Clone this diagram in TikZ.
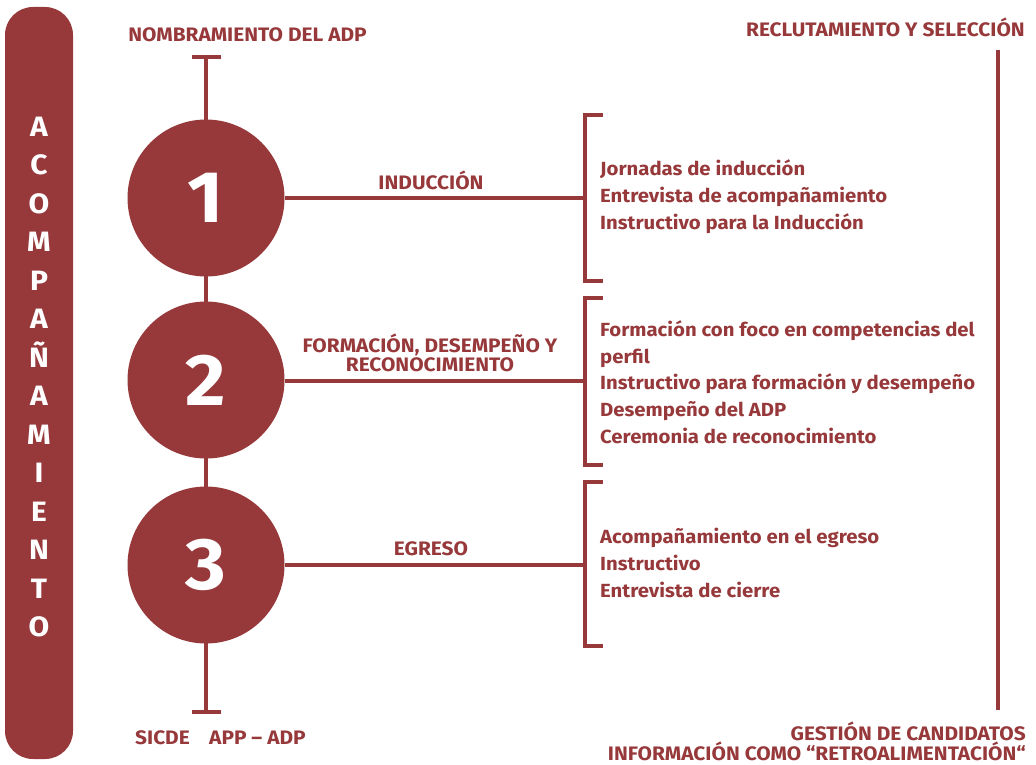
\documentclass[tikz,border=0pt]{standalone}
\usepackage{fontspec}
\setmainfont{Fira Sans}[FakeStretch=1.07]
\definecolor{acc}{RGB}{151,57,59}
\begin{document}
\begin{tikzpicture}[x=1pt,y=-1pt,
  conn/.style={draw=acc,line width=4.5pt},
  lbl/.style={text=acc,font=\fontsize{19.5}{17}\selectfont\bfseries,inner sep=0pt},
  item/.style={text=acc,font=\fontsize{19}{26.7}\selectfont\bfseries,inner sep=0pt,align=left,anchor=base west},
  num/.style={circle,fill=acc,minimum size=157pt,inner sep=0pt,text=white,font=\fontsize{73}{73}\selectfont\bfseries}]
\useasboundingbox (0,0) rectangle (1036,765);
% side bar
\node[fill=acc,rounded corners=28pt,minimum width=68pt,minimum height=752pt,inner sep=0pt] (bar) at (39,383) {};
\node[text=white,font=\fontsize{28}{38.5}\selectfont\bfseries,align=center,inner sep=0pt] (acomp) at (39,377)
  {A\\C\\O\\M\\P\\A\\Ñ\\A\\M\\I\\E\\N\\T\\O};
% main axis
\coordinate (topT) at (206,57);
\coordinate (botT) at (206,712);
\draw[conn] (topT) -- (botT);
\draw[conn] ([xshift=-14.5pt]topT) -- ([xshift=14.5pt]topT);
\draw[conn] ([xshift=-14.5pt]botT) -- ([xshift=14.5pt]botT);
% brackets
\coordinate (b1t) at (585,115); \coordinate (b1b) at (585,281);
\coordinate (b2t) at (585,298); \coordinate (b2b) at (585,465);
\coordinate (b3t) at (585,482); \coordinate (b3b) at (585,646);
\foreach \b in {1,2,3}{
  \draw[conn] ([xshift=18pt]b\b t) -- (b\b t) -- (b\b b) -- ([xshift=18pt]b\b b);
}
\coordinate (b1) at (585,198);
\coordinate (b2) at (585,381);
\coordinate (b3) at (585,565);
% circles
\node[num] (c1) at (206,198) {1};
\node[num] (c2) at (206,380) {2};
\node[num] (c3) at (206,565) {3};
\draw[conn] (c1.east) -- (b1);
\draw[conn] (c2.east |- b2) -- (b2);
\draw[conn] (c3.east) -- (b3);
% labels
\node[lbl,anchor=base] (nom) at (247.5,42) {NOMBRAMIENTO DEL ADP};
\node[lbl,anchor=base] (ind) at (431,189) {INDUCCIÓN};
\node[lbl,anchor=base,align=center] (form) at (430,371) {FORMACIÓN, DESEMPEÑO Y\\RECONOCIMIENTO};
\node[lbl,anchor=base] (egr) at (431,555) {EGRESO};
\node[lbl,anchor=base west] (sicde) at (135,744) {SICDE};
\node[lbl,anchor=base west] (app) at (209,744) {APP – ADP};
\node[lbl,anchor=base east] (recl) at (1025,37) {RECLUTAMIENTO Y SELECCIÓN};
\node[lbl,anchor=base east,align=right] (gest) at (1026,760) {GESTIÓN DE CANDIDATOS\\INFORMACIÓN COMO “RETROALIMENTACIÓN“};
% right axis
\coordinate (rtop) at (998,50);
\coordinate (rbot) at (998,710);
\draw[conn] (rtop) -- (rbot);
% items (base anchor = baseline of last line)
\node[item] (g1) at (600,229) {Jornadas de inducción\\Entrevista de acompañamiento\\Instructivo para la Inducción};
\node[item] (g2) at (600,443.3) {Formación con foco en competencias del\\perfil\\Instructivo para formación y desempeño\\Desempeño del ADP\\Ceremonia de reconocimiento};
\node[item] (g3) at (600,597) {Acompañamiento en el egreso\\Instructivo\\Entrevista de cierre};
\end{tikzpicture}
\end{document}
